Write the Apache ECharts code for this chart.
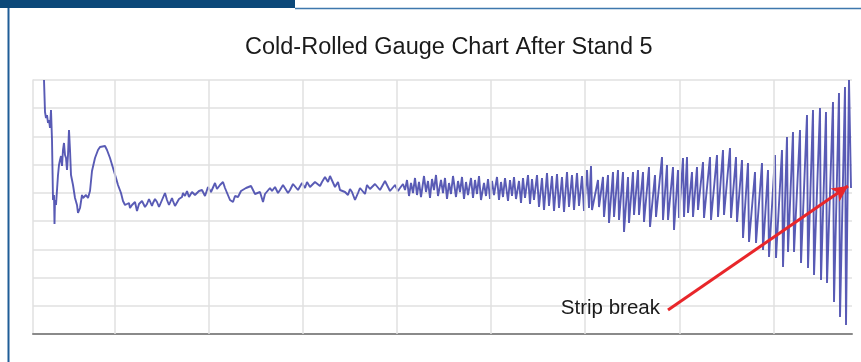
<!DOCTYPE html>
<html><head><meta charset="utf-8">
<script src="https://cdn.jsdelivr.net/npm/echarts@6/dist/echarts.min.js"></script>
<style>html,body{margin:0;padding:0;background:#fff}#c{width:861px;height:362px}</style>
</head><body><div id="c"></div>
<script>
const titleText = 'Cold-Rolled Gauge Chart After Stand 5';
const breakLabel = 'Strip break';

// [sample position, gauge level]
const startup = [[44,254],[45,222],[46,216],[47,219],[48,211],[49,214],[50,206],[51,224],[52,194],[53,134],[54,139],[54.5,110],[55,134],[56,129],[57,144],[58,159],[59,169],[60,174],[61,178],[62,168],[63,184],[64,191],[65,179],[66,176],[67,164],[68,179],[69,204],[70,184],[71,159],[73,149],[75,136],[77,129],[78,121],[80,126],[82,139],[83,136],[86,139],[88,136],[90,143],[92,163],[95,176],[98,184],[100,187],[102,189],[105,188],[107,184],[110,176],[113,166],[116,156],[118,149],[121,141],[123,133],[125,129],[127,128],[129,131],[130,126],[132,129],[133,128],[135,132],[137,123],[139,130],[140,128],[142,133],[143,131],[145,127],[147,130],[149,135],[150,133],[152,128],[153,131],[155,135],[157,132],[159,127],[160,129],[162,134],[163,136],[165,141],[167,134],[169,129],[170,131],[172,136],[173,133],[175,128],[177,129],[179,135],[180,133],[182,137],[183,141],[185,138],[187,143],[189,137],[190,136],[192,142],[193,144],[195,139],[197,138],[199,143],[200,141]];

const steady = [[202,144],[205,138],[208,147],[211,142],[215,151],[217,145],[220,149],[223,152],[225,146],[227,144],[230,134],[233,132],[235,138],[238,137],[241,143],[243,141],[246,146],[248,144],[251,148],[253,147],[255,140],[257,141],[260,142],[263,132],[265,140],[267,139],[270,146],[272,143],[275,147],[278,141],[280,144],[283,149],[285,147],[288,141],[290,144],[293,150],[295,149],[298,144],[302,151],[305,146],[307,152],[310,147],[312,149],[315,152],[317,154],[320,148],[322,152],[325,157],[328,152],[330,158],[332,156],[335,147],[338,152],[340,144],[342,146],[345,142],[348,139],[350,145],[352,142],[355,134],[358,141],[360,146],[362,144],[365,140],[367,149],[370,145],[372,144],[375,150],[377,151],[380,144],[382,146],[385,153],[387,152],[390,143],[392,142],[395,149],[398,143],[400,146],[403,150],[405,144]];

const ripple = [[407,154],[409,138],[411,151],[413,141],[415,156],[417,139],[419,152],[421,137],[424,158],[426,142],[428,153],[430,136],[432,155],[434,144],[436,159],[438,138],[441,154],[443,141],[445,156],[447,135],[449,151],[451,140],[453,158],[456,137],[458,153],[460,142],[462,157],[464,135],[466,152],[468,139],[471,156],[473,136],[475,154],[477,140],[479,158],[481,134],[484,151],[486,138],[488,155],[490,135],[492,153],[494,139],[497,157],[499,134],[501,152],[503,137],[505,156],[508,133],[510,154],[512,138],[514,157],[516,135],[519,153],[521,131],[523,156],[525,136],[528,159],[530,130],[532,155],[534,134],[537,159],[539,127],[542,156],[544,124],[547,161],[549,128],[552,158],[554,123],[557,160],[559,126],[562,157],[564,122],[567,162],[569,127],[572,159],[574,124],[577,161],[579,128],[582,158],[584,123],[587,164],[589,126]];

const chatter = [[591,168],[592,124],[598,154],[599,127],[603,157],[604,117],[608,159],[609,111],[613,162],[614,117],[618,164],[619,114],[623,162],[624,102],[628,157],[629,111],[633,162],[634,119],[638,164],[639,119],[643,162],[644,112],[649,167],[650,107],[655,159],[656,117],[662,177],[663,114],[667,169],[668,114],[673,167],[674,104],[678,164],[679,116],[683,176],[684,117],[687,177],[688,121],[692,162],[693,117],[697,167],[698,124],[703,172],[704,116],[710,177],[711,114],[717,179],[718,117],[723,184],[724,119]];

const breakup = [[730,186],[731,116],[736,177],[737,112],[742,174],[743,96],[748,171],[749,92],[755,162],[756,91],[762,171],[763,84],[768,164],[769,77],[775,179],[776,76],[782,184],[783,67],[787,197],[788,82],[793,202],[794,82],[800,204],[801,71],[807,219],[808,66],[813,224],[814,59],[820,226],[821,54],[826,222],[827,51],[833,232],[834,32],[839,241],[840,17],[845,247],[846,9],[849,254],[851,146]];

const gridColumns = [115,209,303,397,491,585,680,774];
const arrowFrom = [668,24];
const arrowTo = [848,148];
const labelAnchor = [660,26];

const trace = [].concat(startup, steady, ripple, chatter, breakup);

const chart = echarts.init(document.getElementById('c'), null, {renderer:'canvas'});
chart.setOption({
  animation: false,
  backgroundColor: '#ffffff',
  title: {
    text: titleText, left: 240, top: 31,
    textStyle: {fontFamily: 'Liberation Sans', fontSize: 23.5, fontWeight: 'normal', color: '#1a1a1a'}
  },
  graphic: [
    {type:'rect', shape:{x:0,y:0,width:295,height:8}, style:{fill:'#0b4879'}, silent:true},
    {type:'line', shape:{x1:295,y1:8.5,x2:861,y2:8.5}, style:{stroke:'#3f78ad', lineWidth:1.5}, silent:true},
    {type:'line', shape:{x1:8.5,y1:8,x2:8.5,y2:362}, style:{stroke:'#1f5d97', lineWidth:2}, silent:true}
  ],
  grid: {left: 33, right: 9, top: 80, bottom: 28},
  xAxis: {
    type: 'value', min: 33, max: 852,
    axisLine: {show: true, onZero: false, lineStyle: {color: '#8a8a8a', width: 2}},
    axisTick: {show: false}, axisLabel: {show: false}, splitLine: {show: false}
  },
  yAxis: {
    type: 'value', min: 0, max: 254, interval: 254/9,
    axisLine: {show: true, lineStyle: {color: '#e0e0e0', width: 1.5}},
    axisTick: {show: false}, axisLabel: {show: false},
    splitLine: {show: true, lineStyle: {color: '#e0e0e0', width: 1.5}}
  },
  series: [
    {
      type: 'line', data: [], z: 1, silent: true,
      markLine: {
        silent: true, symbol: 'none', label: {show: false}, animation: false,
        lineStyle: {color: '#e0e0e0', width: 1.5, type: 'solid'},
        data: gridColumns.map(v => ({xAxis: v}))
      }
    },
    {
      type: 'line', data: trace, z: 2, showSymbol: false, silent: true,
      lineStyle: {color: '#3c3ea8', width: 1.9, opacity: 0.85}
    },
    {
      type: 'line', data: [], z: 5, silent: true,
      markLine: {
        silent: true, symbol: ['none', 'arrow'], symbolSize: [12, 16], animation: false,
        label: {show: false},
        lineStyle: {color: '#e8262a', width: 3, type: 'solid'},
        data: [[{coord: arrowFrom}, {coord: arrowTo}]]
      },
      markPoint: {
        silent: true, symbol: 'circle', symbolSize: 0, animation: false,
        label: {show: true, position: 'left', distance: 0, formatter: breakLabel,
                color: '#1a1a1a', fontSize: 20.5, fontFamily: 'Liberation Sans'},
        data: [{coord: labelAnchor}]
      }
    }
  ]
});
</script></body></html>
